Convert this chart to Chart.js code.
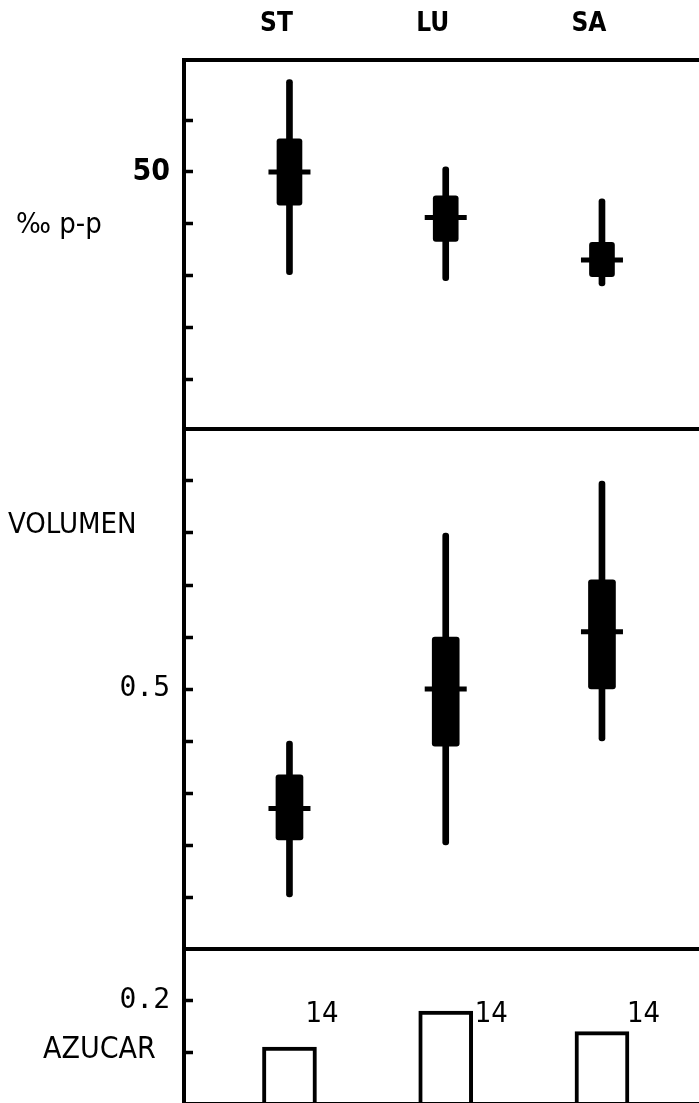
<!DOCTYPE html>
<html>
<head>
<meta charset="utf-8">
<script src="https://cdn.jsdelivr.net/npm/chart.js@4.4.1/dist/chart.umd.min.js"></script>
<style>
  html, body { margin: 0; padding: 0; background: #fff; overflow: hidden; }
  #wrap { position: relative; width: 699px; height: 1103px; overflow: hidden; background: #fff; }
  #wrap canvas { position: absolute; left: 0; }
</style>
</head>
<body>
<div id="wrap">
  <canvas id="panelPP" width="699" height="440" style="top:0px"></canvas>
  <canvas id="panelVol" width="699" height="540" style="top:419px"></canvas>
  <canvas id="panelAzu" width="699" height="175" style="top:939px"></canvas>
</div>
<script>
// Groups along the horizontal axis
const categories = ['ST', 'LU', 'SA'];

// ‰ p-p: extreme range, box limits and central value per group
const ppLow     = [40.1, 39.5, 39.0];
const ppBoxLow  = [46.8, 43.3, 39.9];
const ppCentre  = [50.0, 45.6, 41.5];
const ppBoxHigh = [53.2, 47.7, 43.2];
const ppHigh    = [58.9, 50.5, 47.4];
const ppTicks = [30, 35, 40, 45, 50, 55];
const ppTickLabels = [50];

// VOLUMEN: extreme range, box limits and central value per group
const volLow     = [0.10, 0.20, 0.40];
const volBoxLow  = [0.21, 0.39, 0.50];
const volCentre  = [0.27, 0.50, 0.61];
const volBoxHigh = [0.335, 0.60, 0.71];
const volHigh    = [0.40, 0.80, 0.90];
const volTicks = [0.1, 0.2, 0.3, 0.4, 0.5, 0.6, 0.7, 0.8, 0.9];
const volTickLabels = [0.5];

// AZUCAR: bar heights and number of samples per group
const azucar = [0.11, 0.18, 0.14];
const azucarN = [14, 14, 14];
const azucarTicks = [0.1, 0.2];
const azucarTickLabels = [0.2];

const SANS = "'DejaVu Sans Condensed', 'Liberation Sans Narrow', 'DejaVu Sans', sans-serif";
const MONO = "'DejaVu Sans Mono', 'Liberation Mono', monospace";
const INK = '#000';
const AXIS_W = 184;          // width reserved left of the plot frame
const X_MIN = -0.675, X_MAX = 2.621;
const LABEL_SHIFT = 0.083;   // group names sit a little left of their marks

Chart.defaults.color = INK;
Chart.defaults.font.family = SANS;

// Horizontal frame lines above and below each panel, plus the panel name
const panelFrame = {
  id: 'panelFrame',
  afterDraw(chart, args, opts) {
    const { ctx, chartArea: a } = chart;
    ctx.save();
    ctx.strokeStyle = INK;
    ctx.lineWidth = 4;
    ctx.beginPath();
    ctx.moveTo(a.left - 2, a.top); ctx.lineTo(a.right, a.top);
    ctx.moveTo(a.left - 2, a.bottom); ctx.lineTo(a.right, a.bottom);
    ctx.stroke();
    if (opts.name) {
      ctx.fillStyle = INK;
      ctx.font = opts.font;
      ctx.textAlign = 'left';
      ctx.textBaseline = 'alphabetic';
      ctx.fillText(opts.name, opts.x, a.top + opts.baseline);
    }
    ctx.restore();
  }
};

// Sample counts written beside the bars
const countLabels = {
  id: 'countLabels',
  afterDatasetsDraw(chart, args, opts) {
    if (!opts.counts) return;
    const { ctx, chartArea: a } = chart;
    const meta = chart.getDatasetMeta(0);
    ctx.save();
    ctx.fillStyle = INK;
    ctx.font = opts.font;
    ctx.textAlign = 'left';
    ctx.textBaseline = 'alphabetic';
    meta.data.forEach((bar, i) => {
      ctx.fillText(String(opts.counts[i]), bar.x + opts.offsets[i], a.top + opts.baseline);
    });
    ctx.restore();
  }
};

function points(a, b) {
  return categories.map((_, i) => ({ x: i, y: b ? [a[i], b[i]] : a[i] }));
}

function boxDatasets(low, boxLow, centre, boxHigh, high, boxWidth) {
  return [
    {
      type: 'scatter', data: points(centre),
      pointStyle: 'line', pointRadius: 21, pointHoverRadius: 21,
      pointBorderColor: INK, pointBackgroundColor: INK, pointBorderWidth: 5
    },
    {
      type: 'bar', data: points(boxLow, boxHigh), backgroundColor: INK,
      barThickness: boxWidth, borderRadius: 3, borderSkipped: false, grouped: false
    },
    {
      type: 'bar', data: points(low, high), backgroundColor: INK,
      barThickness: 6, borderRadius: 3, borderSkipped: false, grouped: false
    }
  ];
}

// Axes keep no extra margin of their own, so the plot frame lands exactly
function noMargins(scale) {
  scale.paddingTop = 0; scale.paddingBottom = 0;
  scale.paddingLeft = 0; scale.paddingRight = 0;
}

function xScale() {
  return { type: 'linear', min: X_MIN, max: X_MAX, offset: false, display: false };
}

function yScale(min, max, tickValues, labelled, font, digits) {
  return {
    type: 'linear', position: 'left', min, max, offset: false,
    afterBuildTicks(scale) { scale.ticks = tickValues.map(v => ({ value: v })); },
    afterFit(scale) { scale.width = AXIS_W; noMargins(scale); },
    border: { display: true, color: INK, width: 4 },
    grid: {
      display: true, drawOnChartArea: false, drawTicks: true,
      tickLength: -9, tickWidth: 3.5, tickColor: INK
    },
    ticks: {
      color: INK, font, padding: 23,
      callback(v) {
        return labelled.some(l => Math.abs(l - v) < 1e-9) ? v.toFixed(digits) : '';
      }
    }
  };
}

const common = {
  responsive: false,
  animation: false,
  devicePixelRatio: 1,
  events: [],
};

// Panel 1: ‰ p-p with group names on top
new Chart(document.getElementById('panelPP'), {
  type: 'bar',
  data: { datasets: boxDatasets(ppLow, ppBoxLow, ppCentre, ppBoxHigh, ppHigh, 25) },
  plugins: [panelFrame],
  options: Object.assign({}, common, {
    layout: { autoPadding: false, padding: { top: 0, bottom: 11, left: 0, right: 0 } },
    plugins: {
      legend: { display: false }, tooltip: { enabled: false },
      panelFrame: { name: '‰ p-p', font: `29px ${SANS}`, x: 16, baseline: 173 }
    },
    scales: {
      x: xScale(),
      xTop: {
        type: 'linear', position: 'top', offset: false,
        min: X_MIN + LABEL_SHIFT, max: X_MAX + LABEL_SHIFT,
        afterBuildTicks(scale) { scale.ticks = categories.map((_, i) => ({ value: i })); },
        afterFit(scale) { scale.height = 60; noMargins(scale); },
        grid: { display: false, drawTicks: false },
        border: { display: false },
        ticks: {
          autoSkip: false, maxRotation: 0, padding: 20, color: INK,
          font: { family: SANS, size: 26, weight: 'bold' },
          callback(v) { return categories[v]; }
        }
      },
      y: yScale(25.2, 60.8, ppTicks, ppTickLabels, { family: SANS, size: 30, weight: 'bold' }, 0)
    }
  })
});

// Panel 2: VOLUMEN
new Chart(document.getElementById('panelVol'), {
  type: 'bar',
  data: { datasets: boxDatasets(volLow, volBoxLow, volCentre, volBoxHigh, volHigh, 27) },
  plugins: [panelFrame],
  options: Object.assign({}, common, {
    layout: { autoPadding: false, padding: { top: 10, bottom: 10, left: 0, right: 0 } },
    plugins: {
      legend: { display: false }, tooltip: { enabled: false },
      panelFrame: { name: 'VOLUMEN', font: `29px ${SANS}`, x: 8, baseline: 104 }
    },
    scales: {
      x: xScale(),
      y: yScale(0, 1.0, volTicks, volTickLabels, { family: MONO, size: 28 }, 1)
    }
  })
});

// Panel 3: AZUCAR, open bars with sample counts
new Chart(document.getElementById('panelAzu'), {
  type: 'bar',
  data: {
    datasets: [{
      data: points(azucar), backgroundColor: '#fff', borderColor: INK,
      borderWidth: 4, barThickness: 54, borderSkipped: 'start', grouped: false
    }]
  },
  plugins: [panelFrame, countLabels],
  options: Object.assign({}, common, {
    layout: { autoPadding: false, padding: { top: 10, bottom: 10, left: 0, right: 0 } },
    plugins: {
      legend: { display: false }, tooltip: { enabled: false },
      panelFrame: { name: 'AZUCAR', font: `30px ${SANS}`, x: 43, baseline: 109 },
      countLabels: { counts: azucarN, font: `29px ${SANS}`, offsets: [16, 29, 25], baseline: 73 }
    },
    scales: {
      x: xScale(),
      y: yScale(0, 0.3, azucarTicks, azucarTickLabels, { family: MONO, size: 28 }, 1)
    }
  })
});
</script>
</body>
</html>
